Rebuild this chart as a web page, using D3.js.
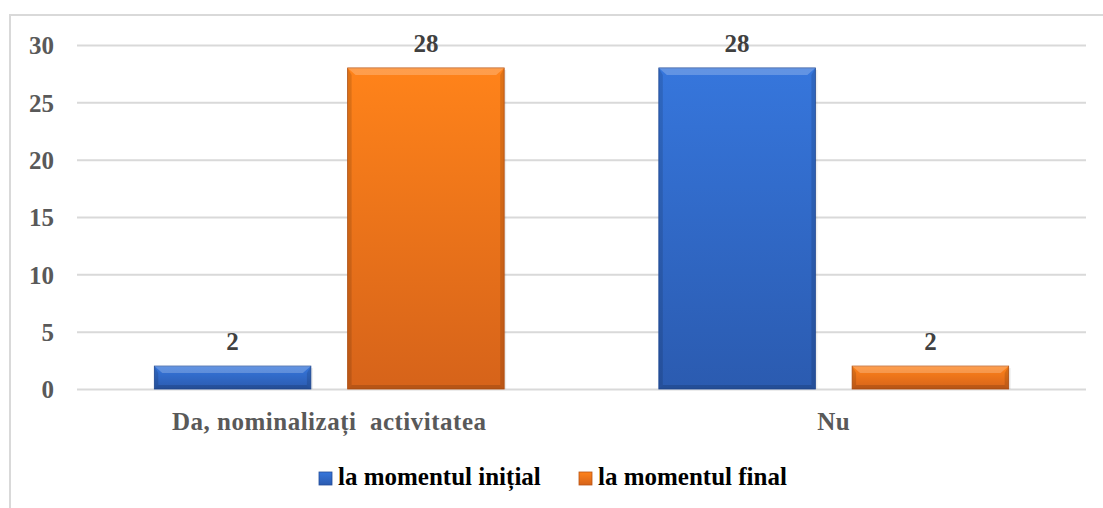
<!DOCTYPE html>
<html>
<head>
<meta charset="utf-8">
<script src="https://cdn.jsdelivr.net/npm/d3@7"></script>
<style>
  body { margin: 0; background: #fff; }
</style>
</head>
<body>
<div id="chart"></div>
<script>
const categories = ["Da, nominalizați  activitatea", "Nu"];
const seriesNames = ["la momentul inițial", "la momentul final"];
const initialValues = [2, 28];
const finalValues = [28, 2];
const yTicks = [0, 5, 10, 15, 20, 25, 30];

const width = 1103;
const height = 508;
const plot = { left: 77, right: 1086, top: 45, bottom: 389 };
const FONT = "font-family:'Liberation Serif';font-weight:bold;";

const data = categories.map((c, i) => ({
    category: c,
    values: [
        { series: seriesNames[0], value: initialValues[i] },
        { series: seriesNames[1], value: finalValues[i] }
    ]
}));

const svg = d3.select('#chart')
    .append('svg')
    .attr('width', width)
    .attr('height', height)
    .attr('font-family', 'Liberation Serif');

const defs = svg.append('defs');
const colors = {
    [seriesNames[0]]: { light: '#3676dc', dark: '#2b5bb0', edge: '#244d98', id: 'gBlue' },
    [seriesNames[1]]: { light: '#ff831a', dark: '#d6631a', edge: '#b85414', id: 'gOrange' }
};
Object.values(colors).forEach(c => {
    const g = defs.append('linearGradient')
        .attr('id', c.id).attr('x1', 0).attr('y1', 0).attr('x2', 0).attr('y2', 1);
    g.append('stop').attr('offset', '0%').attr('stop-color', c.light);
    g.append('stop').attr('offset', '100%').attr('stop-color', c.dark);
});

// outer frame
svg.append('rect')
    .attr('x', 10).attr('y', 15)
    .attr('width', 1200).attr('height', 600)
    .attr('fill', 'none')
    .attr('stroke', '#d9d9d9')
    .attr('stroke-width', 2);

const x = d3.scaleBand()
    .domain(categories)
    .range([plot.left, plot.right])
    .padding(0);

const xSub = d3.scaleBand()
    .domain(seriesNames)
    .range([0, x.bandwidth()])
    .paddingInner(0.19)
    .paddingOuter(0.40);

const y = d3.scaleLinear()
    .domain([0, 30])
    .range([plot.bottom, plot.top]);

const yAxis = d3.axisLeft(y).tickValues(yTicks).tickSize(0).tickPadding(0);

svg.append('g')
    .attr('transform', `translate(${plot.left},0)`)
    .call(yAxis)
    .attr('font-family', null)
    .attr('font-size', null)
    .call(g => g.select('.domain').remove())
    .call(g => g.selectAll('.tick line').clone()
        .attr('x2', plot.right - plot.left)
        .attr('stroke', '#d9d9d9')
        .attr('stroke-width', 2))
    .call(g => g.selectAll('.tick text')
        .attr('x', -23)
        .attr('dy', '0.35em')
        .attr('fill', '#595959')
        .attr('style', FONT + 'font-size:25px'));

const groups = svg.append('g')
    .selectAll('g')
    .data(data)
    .join('g')
    .attr('transform', d => `translate(${x(d.category)},0)`);

const bars = groups.selectAll('g.bar')
    .data(d => d.values)
    .join('g')
    .attr('class', 'bar');

// soft shadow on the right
bars.append('rect')
    .attr('x', d => xSub(d.series) + 2)
    .attr('y', d => y(d.value) + 2)
    .attr('width', xSub.bandwidth())
    .attr('height', d => y(0) - y(d.value) - 2)
    .attr('fill', '#000')
    .attr('opacity', 0.07);

bars.append('rect')
    .attr('x', d => xSub(d.series))
    .attr('y', d => y(d.value))
    .attr('width', xSub.bandwidth())
    .attr('height', d => y(0) - y(d.value))
    .attr('fill', d => `url(#${colors[d.series].id})`)
    .attr('stroke', d => colors[d.series].edge)
    .attr('stroke-width', 0.8);

// bevel: lighter top edge, darker sides and bottom
const bevTop = 7, bevSide = 4;
bars.append('path')
    .attr('d', d => {
        const x0 = xSub(d.series), x1 = x0 + xSub.bandwidth(), t = y(d.value);
        return `M${x0},${t}L${x1},${t}L${x1 - bevSide * 2},${t + bevTop}L${x0 + bevSide * 2},${t + bevTop}Z`;
    })
    .attr('fill', '#ffffff')
    .attr('opacity', 0.22);
bars.append('path')
    .attr('d', d => {
        const x0 = xSub(d.series), x1 = x0 + xSub.bandwidth(), t = y(d.value), b = y(0);
        return `M${x1},${t}L${x1},${b}L${x1 - bevSide},${b - bevSide}L${x1 - bevSide},${t + bevTop}Z` +
               `M${x0},${t}L${x0},${b}L${x0 + bevSide},${b - bevSide}L${x0 + bevSide},${t + bevTop}Z`;
    })
    .attr('fill', '#000')
    .attr('opacity', 0.12);
bars.append('path')
    .attr('d', d => {
        const x0 = xSub(d.series), x1 = x0 + xSub.bandwidth(), b = y(0);
        return `M${x0},${b}L${x1},${b}L${x1 - bevSide},${b - bevSide}L${x0 + bevSide},${b - bevSide}Z`;
    })
    .attr('fill', '#000')
    .attr('opacity', 0.14);

bars.append('text')
    .attr('x', d => xSub(d.series) + xSub.bandwidth() / 2)
    .attr('y', d => y(d.value) - 16)
    .attr('text-anchor', 'middle')
    .attr('fill', '#404040')
    .attr('style', FONT + 'font-size:25px')
    .text(d => d.value);

const xAxis = d3.axisBottom(x).tickSize(0).tickPadding(0);
svg.append('g')
    .attr('transform', `translate(0,${plot.bottom})`)
    .call(xAxis)
    .attr('font-family', null)
    .attr('font-size', null)
    .call(g => g.select('.domain').remove())
    .call(g => g.selectAll('.tick text')
        .attr('y', 41)
        .attr('dy', 0)
        .attr('fill', '#595959')
        .attr('style', FONT + 'font-size:25px;letter-spacing:0.5px;white-space:pre'));

// legend
const legendX = [319, 579];
const legend = svg.append('g')
    .selectAll('g')
    .data(seriesNames)
    .join('g')
    .attr('transform', (d, i) => `translate(${legendX[i]},478)`);
legend.append('rect')
    .attr('x', 0).attr('y', -6)
    .attr('width', 13).attr('height', 13)
    .attr('fill', d => `url(#${colors[d].id})`)
    .attr('stroke', d => colors[d].edge)
    .attr('stroke-width', 0.8);
legend.append('text')
    .attr('x', 19)
    .attr('y', 7)
    .attr('fill', '#000')
    .attr('style', FONT + 'font-size:25px')
    .text(d => d);
</script>
</body>
</html>
